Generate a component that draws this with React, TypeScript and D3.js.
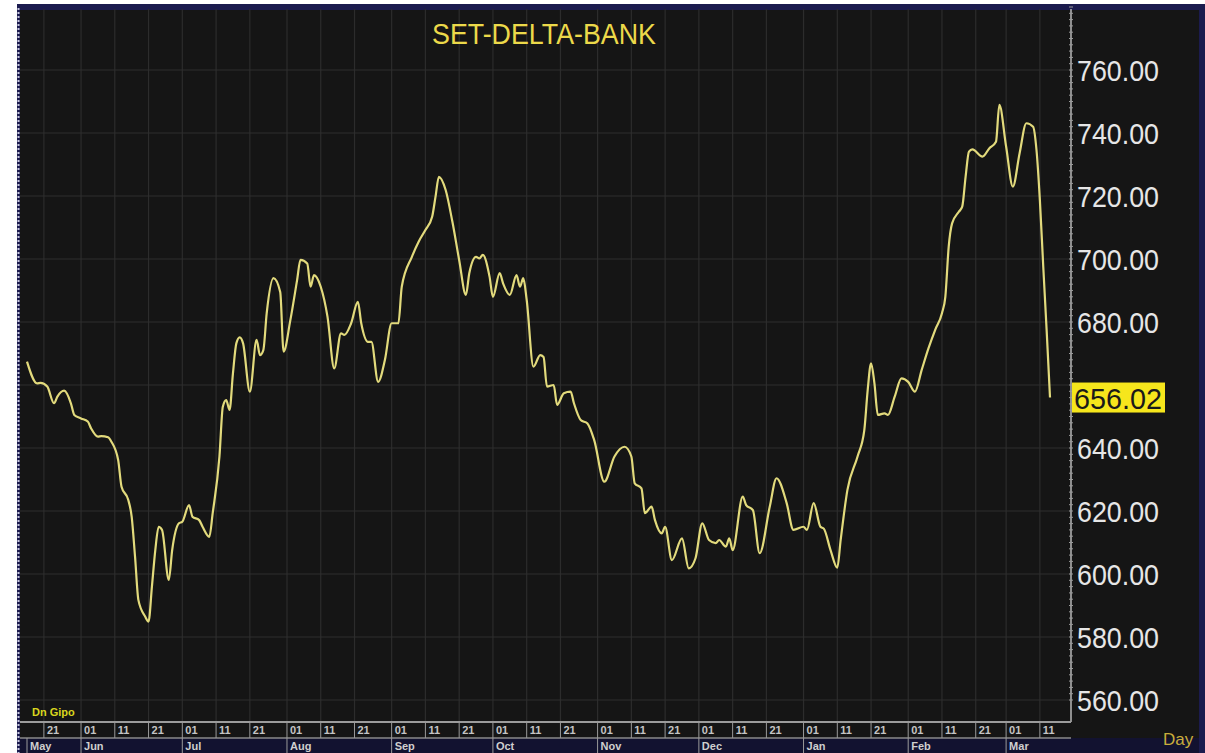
import * as d3 from "d3";
import React, {useEffect, useRef} from "react";

const TITLE = "SET-DELTA-BANK";
const START_DATE = "2023-05-16";
const END_DATE = "2024-03-14";
const LAST_LABEL = "656.02";
const CORNER_LABEL = "Dn Gipo";
const PERIOD_LABEL = "Day";

// days after START_DATE for each traced close
const dayOffsets = [
  0, 3, 4, 6, 8, 9, 11, 13, 14, 16, 18, 19, 21, 22, 24, 25, 27, 28, 30, 31,
  32, 33, 35, 36, 37, 38, 39, 40, 42, 43, 45, 46, 48, 49, 51, 52, 54, 55, 57, 58,
  59, 60, 61, 62, 63, 64, 66, 68, 69, 70, 71, 73, 75, 76, 78, 80, 81, 83, 84, 85,
  87, 89, 91, 93, 94, 96, 98, 99, 101, 102, 104, 106, 108, 110, 111, 114, 116, 118, 120, 121,
  122, 124, 126, 128, 130, 131, 133, 134, 135, 137, 138, 140, 141, 143, 145, 146, 147, 148, 150, 152,
  153, 154, 156, 157, 159, 161, 162, 164, 166, 168, 171, 174, 177, 179, 180, 182, 183, 185, 186, 188,
  189, 191, 194, 196, 198, 200, 202, 204, 205, 207, 208, 209, 212, 213, 215, 217, 220, 222, 225, 227,
  230, 231, 233, 235, 236, 238, 240, 241, 243, 246, 248, 249, 250, 251, 252, 254, 255, 257, 259, 261,
  263, 265, 267, 269, 271, 272, 273, 274, 276, 277, 278, 279, 280, 283, 285, 287, 288, 290, 292, 294,
  296, 298, 299, 300, 301, 302, 303,
];

const closes = [
  667.4, 660.5, 660.7, 659.5, 654.2, 656.3, 658.2, 654.2, 650.5, 649.4, 648.4, 646.2, 643.6, 643.8, 643.4, 642.0, 636.2, 627.7, 623.5, 618.2,
  605.5, 591.7, 586.5, 584.9, 596.0, 607.6, 615.0, 614.0, 598.1, 607.6, 616.1, 616.6, 621.9, 618.2, 617.1, 615.0, 611.8, 619.3, 637.3, 653.1,
  655.2, 652.1, 663.7, 673.2, 675.1, 673.2, 657.9, 674.3, 669.5, 671.1, 682.8, 693.9, 689.5, 670.6, 680.6, 693.3, 699.7, 698.6, 691.2, 694.9,
  691.2, 681.7, 665.3, 676.4, 675.9, 679.6, 686.4, 679.6, 673.7, 673.7, 661.0, 667.9, 679.6, 679.6, 691.2, 700.7, 705.5, 709.2, 713.4, 719.8,
  726.1, 721.9, 711.8, 699.7, 688.6, 695.5, 700.7, 700.2, 701.3, 694.4, 688.0, 695.5, 692.3, 688.6, 694.9, 691.2, 693.9, 687.0, 665.8, 669.5,
  668.9, 659.5, 660.0, 653.7, 657.4, 657.9, 654.2, 648.9, 647.8, 642.5, 629.3, 637.3, 640.4, 637.3, 628.8, 627.2, 619.3, 621.4, 617.1, 612.9,
  615.0, 604.4, 611.3, 601.8, 605.0, 616.1, 610.8, 609.8, 610.8, 608.7, 611.3, 607.6, 624.6, 621.9, 620.3, 606.6, 621.4, 630.4, 622.5, 614.0,
  615.0, 614.0, 622.5, 615.0, 614.4, 607.6, 602.0, 610.8, 626.7, 637.3, 645.7, 658.4, 666.9, 660.5, 650.5, 651.0, 650.5, 656.3, 662.1, 661.0,
  657.9, 664.8, 671.6, 677.5, 682.8, 688.0, 703.9, 711.3, 715.0, 716.6, 726.1, 734.1, 734.8, 732.5, 735.1, 737.2, 748.9, 735.7, 723.0, 733.6,
  743.1, 742.0, 734.6, 718.7, 697.6, 677.5, 656.02,
];

const yTicks = [560, 580, 600, 620, 640, 660, 680, 700, 720, 740, 760];
const labelDays = [1, 11, 21];

const W = 1205;
const H = 753;

const PriceChart: React.FC = () => {
  const ref = useRef<SVGSVGElement | null>(null);

  useEffect(() => {
    const svg = d3.select(ref.current);
    svg.selectAll('*').remove();

    const plot = {left: 20, right: 1071, top: 9, bottom: 722};
    const start = d3.utcParse("%Y-%m-%d")(START_DATE) as Date;
    const end = d3.utcParse("%Y-%m-%d")(END_DATE) as Date;
    const data = dayOffsets.map((d, i) => ({date: d3.utcDay.offset(start, d), close: closes[i]}));

    const xScale = d3.scaleUtc().domain([start, end]).range([27, 1050]);
    const yScale = d3.scaleLinear().domain([560, 760]).range([700, 70]);
    const lastY = yScale(closes[closes.length - 1]);

    // frame
    svg.append('rect').attr('width', W).attr('height', H).attr('fill', '#ffffff');
    svg.append('rect').attr('x', 17).attr('y', 4).attr('width', W - 17).attr('height', H - 4).attr('fill', '#1b1b4e');
    svg.append('rect').attr('x', 20).attr('y', 10).attr('width', W - 26).attr('height', 728).attr('fill', '#151515');
    svg.append('rect').attr('x', 20).attr('y', 738).attr('width', W - 26).attr('height', 15).attr('fill', '#121230');
    svg.append('line')
      .attr('x1', 18.5).attr('x2', 18.5).attr('y1', 8).attr('y2', H)
      .attr('stroke', '#c8c8e0').attr('stroke-width', 2).attr('stroke-dasharray', '2,2');

    // grid
    const dayTicks = d3.utcDay.filter((d) => labelDays.includes(d.getUTCDate())).range(start, end);
    svg.append('g')
      .selectAll('line')
      .data(dayTicks)
      .enter()
      .append('line')
      .attr('x1', (d) => xScale(d)).attr('x2', (d) => xScale(d))
      .attr('y1', plot.top).attr('y2', plot.bottom)
      .attr('stroke', '#2c2c2c').attr('stroke-width', 1.2);

    svg.append('g')
      .selectAll('line')
      .data(yTicks)
      .enter()
      .append('line')
      .attr('x1', plot.left).attr('x2', plot.right)
      .attr('y1', (d) => yScale(d)).attr('y2', (d) => yScale(d))
      .attr('stroke', '#2e2e2e').attr('stroke-width', 1.2);

    // title
    svg.append('text')
      .attr('x', 544).attr('y', 44)
      .attr('text-anchor', 'middle')
      .attr('fill', '#ecd94a')
      .attr('textLength', 224).attr('lengthAdjust', 'spacingAndGlyphs')
      .style('font-family', 'Liberation Sans, Arial, sans-serif')
      .style('font-size', '30px')
      .text(TITLE);

    // price line
    const line = d3.line<{date: Date, close: number}>()
      .x((d) => xScale(d.date))
      .y((d) => yScale(d.close))
      .curve(d3.curveMonotoneX);
    svg.append('path')
      .datum(data)
      .attr('d', line)
      .attr('fill', 'none')
      .attr('stroke', '#e2da7c')
      .attr('stroke-width', 2.2);

    // right axis
    svg.append('line')
      .attr('x1', plot.right).attr('x2', plot.right)
      .attr('y1', plot.top).attr('y2', plot.bottom)
      .attr('stroke', '#b8b8b8').attr('stroke-width', 1.5);
    svg.append('g')
      .selectAll('line')
      .data(d3.range(560, 782, 2))
      .enter()
      .append('line')
      .attr('x1', plot.right - 2).attr('x2', plot.right + 2)
      .attr('y1', (d) => yScale(d)).attr('y2', (d) => yScale(d))
      .attr('stroke', '#9a9a9a').attr('stroke-width', 1);

    // tick labels hidden behind the last-value box are left out
    svg.append('g')
      .selectAll('text')
      .data(yTicks.filter((d) => Math.abs(yScale(d) - lastY) > 28))
      .enter()
      .append('text')
      .attr('x', 1077)
      .attr('y', (d) => yScale(d) + 11)
      .attr('fill', '#e6e6e6')
      .attr('textLength', 82).attr('lengthAdjust', 'spacingAndGlyphs')
      .style('font-family', 'Liberation Sans, Arial, sans-serif')
      .style('font-size', '30px')
      .text((d) => d3.format('.2f')(d));

    // last value marker
    svg.append('rect')
      .attr('x', plot.right + 1).attr('y', lastY - 15)
      .attr('width', 93).attr('height', 30)
      .attr('fill', '#f6e61c');
    svg.append('text')
      .attr('x', 1074)
      .attr('y', lastY + 11)
      .attr('fill', '#1a1a1a')
      .attr('textLength', 88).attr('lengthAdjust', 'spacingAndGlyphs')
      .style('font-family', 'Liberation Sans, Arial, sans-serif')
      .style('font-size', '30px')
      .text(LAST_LABEL);

    // bottom axis
    svg.append('line')
      .attr('x1', plot.left).attr('x2', plot.right)
      .attr('y1', plot.bottom).attr('y2', plot.bottom)
      .attr('stroke', '#9c9c9c').attr('stroke-width', 2);
    svg.append('line')
      .attr('x1', plot.left).attr('x2', plot.right)
      .attr('y1', 738).attr('y2', 738)
      .attr('stroke', '#8a8a8a').attr('stroke-width', 1.5);

    const dayAxis = svg.append('g')
      .selectAll('g')
      .data(dayTicks)
      .enter()
      .append('g')
      .attr('transform', (d) => `translate(${xScale(d)}, 0)`);
    dayAxis.append('line')
      .attr('y1', plot.bottom).attr('y2', 738)
      .attr('stroke', '#9a9a9a');
    dayAxis.append('text')
      .attr('x', 3).attr('y', 734)
      .attr('fill', '#c4c4c4')
      .style('font-family', 'Liberation Sans, Arial, sans-serif')
      .style('font-size', '11px')
      .style('font-weight', 'bold')
      .text((d) => d3.utcFormat('%d')(d));

    const months = [start, ...d3.utcMonth.range(start, end)];
    const monthAxis = svg.append('g')
      .selectAll('g')
      .data(months)
      .enter()
      .append('g')
      .attr('transform', (d) => `translate(${xScale(d)}, 0)`);
    monthAxis.append('line')
      .attr('y1', 738).attr('y2', H)
      .attr('stroke', '#9a9a9a');
    monthAxis.append('text')
      .attr('x', 3).attr('y', 750)
      .attr('fill', '#cfcfcf')
      .style('font-family', 'Liberation Sans, Arial, sans-serif')
      .style('font-size', '11px')
      .style('font-weight', 'bold')
      .text((d) => d3.utcFormat('%b')(d));

    svg.append('text')
      .attr('x', 32).attr('y', 716)
      .attr('fill', '#d9d51e')
      .style('font-family', 'Liberation Sans, Arial, sans-serif')
      .style('font-size', '11px')
      .style('font-weight', 'bold')
      .text(CORNER_LABEL);

    svg.append('text')
      .attr('x', 1163).attr('y', 745)
      .attr('fill', '#c9ad3c')
      .style('font-family', 'Liberation Sans, Arial, sans-serif')
      .style('font-size', '17px')
      .text(PERIOD_LABEL);

    return () => {
      svg.selectAll('*').remove();
    };
  }, []);

  return <svg ref={ref} width={W} height={H} style={{position: 'absolute', left: 0, top: 0}}/>;
};

export default function App() {
  return <PriceChart/>;
}
